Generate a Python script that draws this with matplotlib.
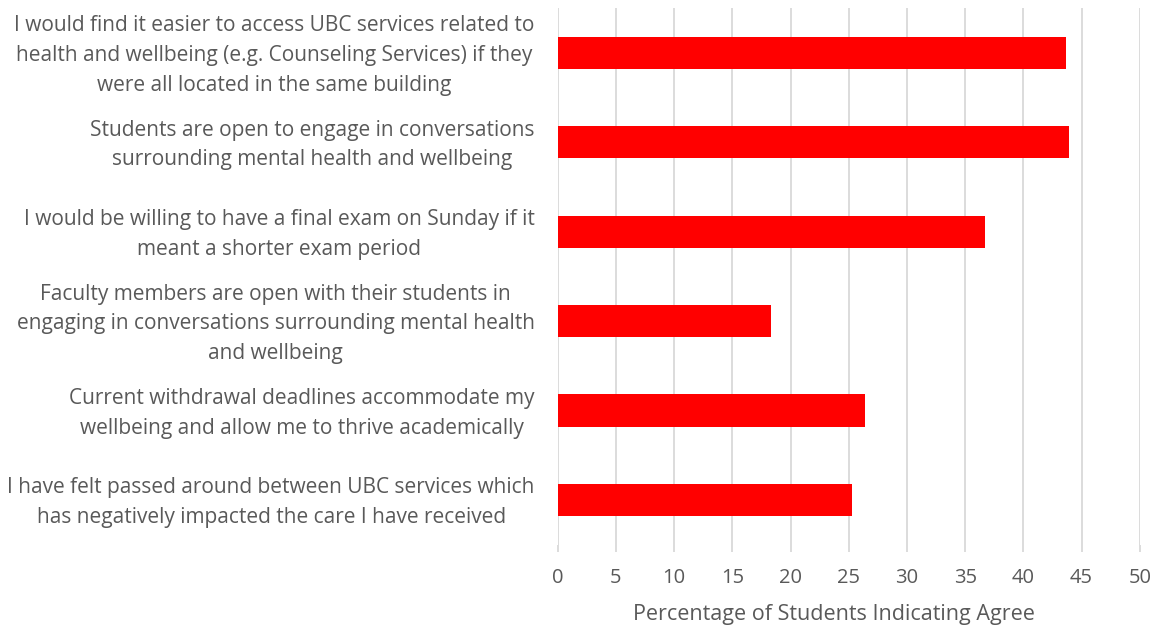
import matplotlib.pyplot as plt
from matplotlib.transforms import ScaledTranslation, blended_transform_factory

# Survey statements, listed top to bottom as they appear on the chart
statements = [
    "I would find it easier to access UBC services related to\nhealth and wellbeing (e.g. Counseling Services) if they\nwere all located in the same building",
    "Students are open to engage in conversations\nsurrounding mental health and wellbeing",
    "I would be willing to have a final exam on Sunday if it\nmeant a shorter exam period",
    "Faculty members are open with their students in\nengaging in conversations surrounding mental health\nand wellbeing",
    "Current withdrawal deadlines accommodate my\nwellbeing and allow me to thrive academically",
    "I have felt passed around between UBC services which\nhas negatively impacted the care I have received",
]
pct_agree = [43.7, 43.9, 36.7, 18.3, 26.4, 25.3]
x_ticks = [0, 5, 10, 15, 20, 25, 30, 35, 40, 45, 50]

plt.rcParams['font.family'] = ['Open Sans', 'DejaVu Sans']
text_grey = '#595959'

fig = plt.figure(figsize=(11.56, 6.29), dpi=100)
ax = fig.add_axes([0.4825, 0.1342, 0.5035, 0.8526])

ypos = list(range(len(statements)))[::-1]
ax.barh(ypos, pct_agree, height=0.36, color='#FF0000', zorder=3)

ax.set_xlim(0, 50)
ax.set_ylim(-0.5, len(statements) - 0.5)
ax.set_xticks(x_ticks)
ax.set_xticklabels([str(t) for t in x_ticks], fontsize=14.5, color=text_grey)
ax.set_yticks(ypos)
ax.set_yticklabels([])

# statement labels: right edge a little left of the axis, each block centred on its bar
label_tr = blended_transform_factory(ax.transAxes, ax.transData) + \
    ScaledTranslation(-0.23, -0.027, fig.dpi_scale_trans)
for y, txt in zip(ypos, statements):
    ax.text(0, y, txt, transform=label_tr, ha='right', va='center',
            multialignment='center', linespacing=1.55,
            fontsize=15, color=text_grey)

ax.grid(axis='x', color='#d9d9d9', linewidth=1.3, zorder=0)
for side in ['top', 'right', 'left', 'bottom']:
    ax.spines[side].set_visible(False)

ax.tick_params(axis='x', length=5, width=1.3, color='#d9d9d9', pad=12)
ax.tick_params(axis='y', length=0)

ax.set_xlabel('Percentage of Students Indicating Agree', fontsize=15.5,
              color=text_grey)
ax.xaxis.set_label_coords(0.475, -0.111)

fig.savefig('out.png', dpi=100)
plt.close()
